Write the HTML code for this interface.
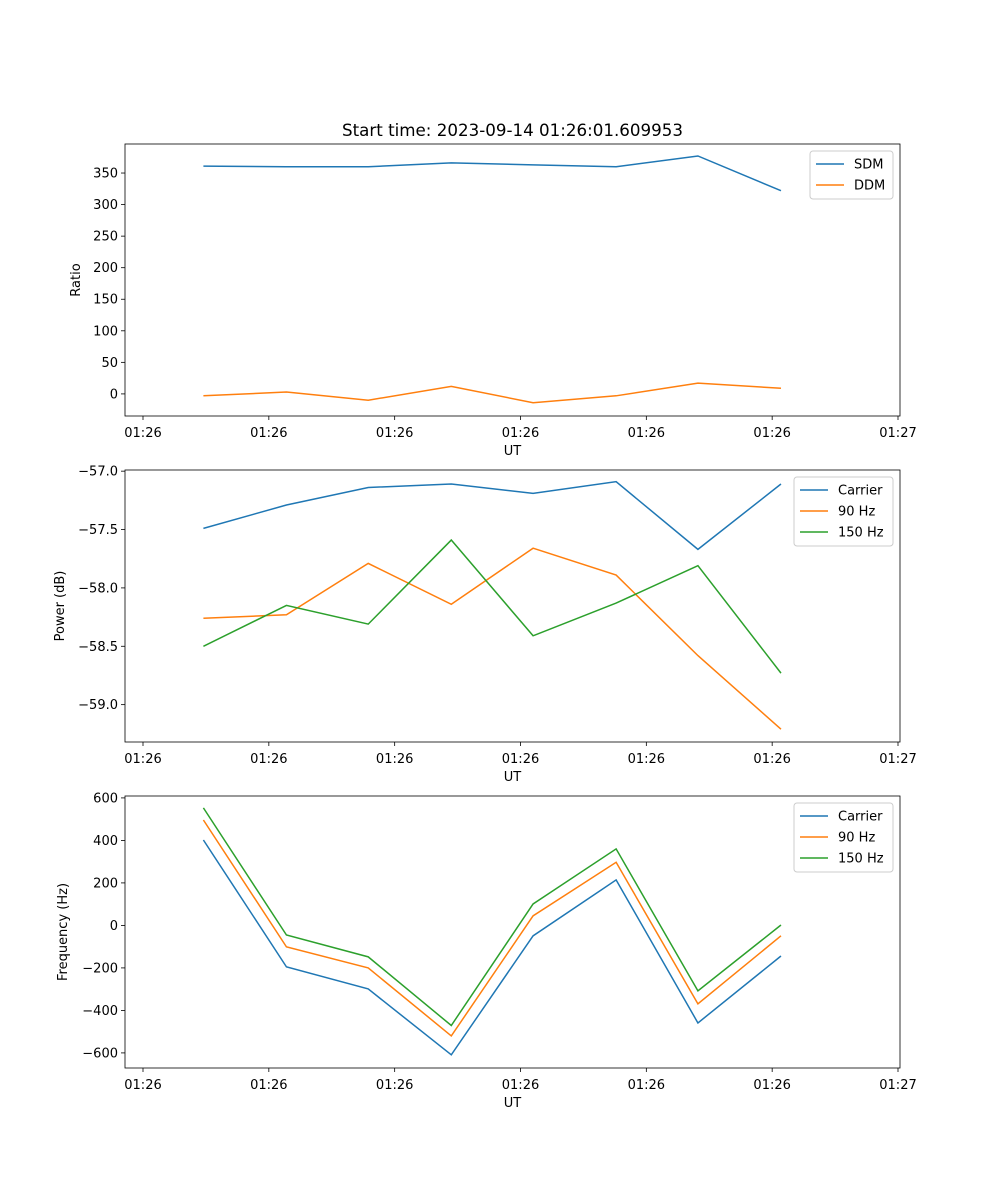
<!DOCTYPE html>
<html><head><meta charset="utf-8"><style>
body{margin:0;background:#fff;}
svg{display:block;font-family:"DejaVu Sans","Liberation Sans",sans-serif;}
</style></head><body>
<svg id="fig" width="1000" height="1200"></svg>
<script>
const xTickVals=[0,10,20,30,40,50,60];
const xTickLabels=["01:26","01:26","01:26","01:26","01:26","01:26","01:27"];
const times=[4.8,11.4,17.9,24.5,31.0,37.6,44.1,50.7];
const sdm=[361,360,360,366,363,360,377,322];
const ddm=[-3,3,-10,12,-14,-3,17,9];
const yTicks1=[0,50,100,150,200,250,300,350];
const pwrCarrier=[-57.49,-57.29,-57.14,-57.11,-57.19,-57.09,-57.67,-57.11];
const pwr90=[-58.26,-58.23,-57.79,-58.14,-57.66,-57.89,-58.58,-59.21];
const pwr150=[-58.50,-58.15,-58.31,-57.59,-58.41,-58.13,-57.81,-58.73];
const yTicks2=[-59.0,-58.5,-58.0,-57.5,-57.0];
const frqCarrier=[402,-195,-299,-609,-49,214,-459,-144];
const frq90=[496,-101,-200,-520,45,297,-369,-49];
const frq150=[553,-45,-148,-471,101,360,-308,2];
const yTicks3=[-600,-400,-200,0,200,400,600];

const NS="http://www.w3.org/2000/svg";
const svg=document.getElementById('fig');
function mk(tag,attrs,parent){const e=document.createElementNS(NS,tag);for(const k in attrs)e.setAttribute(k,attrs[k]);(parent||svg).appendChild(e);return e;}
const L=125,R=900;
const xScale=v=>143+(v-0)*(898-143)/60;
const C={b:"#1f77b4",o:"#ff7f0e",g:"#2ca02c"};
function panel(name,top,bot,ymin,ymax,yt,fmt,ylabel,series,legend,title){
  const g=mk('g',{});
  
  
  const y=v=>bot-(v-ymin)*(bot-top)/(ymax-ymin);
  yt.forEach(v=>{
    mk('line',{x1:L-4,x2:L,y1:y(v),y2:y(v),stroke:'#000','stroke-width':0.8},g);
    const t=mk('text',{x:L-7,y:y(v)+4.5,'text-anchor':'end','font-size':13},g);t.textContent=fmt(v).replace('-','\u2212');
  });
  xTickVals.forEach((v,i)=>{
    mk('line',{x1:xScale(v),x2:xScale(v),y1:bot,y2:bot+4,stroke:'#000','stroke-width':0.8},g);
    const t=mk('text',{x:xScale(v),y:bot+21,'text-anchor':'middle','font-size':13},g);t.textContent=xTickLabels[i];
  });
  series.forEach(s=>{
    const p=mk('polyline',{points:times.map((t,i)=>xScale(t)+','+y(s.d[i])).join(' '),fill:'none',stroke:s.c,'stroke-width':1.5},g);
    
    
  });
  mk('rect',{x:L,y:top,width:R-L,height:bot-top,fill:'none',stroke:'#000','stroke-width':0.8},g);
  let t=mk('text',{x:(L+R)/2,y:bot+39,'text-anchor':'middle','font-size':13},g);t.textContent='UT';
  t=mk('text',{x:0,y:0,'text-anchor':'middle','font-size':13,transform:`translate(${ylabel[1]},${(top+bot)/2}) rotate(-90)`},g);t.textContent=ylabel[0];
  if(title){t=mk('text',{x:(L+R)/2,y:top-8,'text-anchor':'middle','font-size':16.7},g);t.textContent=title;}
  const lg=mk('g',{},g);
  
  
  mk('rect',{x:legend[0],y:top+7,width:R-7-legend[0],height:series.length*21+6,rx:3,fill:'#fff',stroke:'#ccc'},lg);
  series.forEach((s,i)=>{
    const yy=top+7+13+i*21;
    mk('line',{x1:legend[0]+6,x2:legend[0]+34,y1:yy,y2:yy,stroke:s.c,'stroke-width':1.5},lg);
    const tt=mk('text',{x:legend[0]+44,y:yy+4.5,'font-size':13},lg);tt.textContent=s.n;
  });
}
panel('ratio-panel',144,416,-35,396,yTicks1,v=>String(v),['Ratio',80],
  [{n:'SDM',d:sdm,c:C.b},{n:'DDM',d:ddm,c:C.o}],[810],'Start time: 2023-09-14 01:26:01.609953');
panel('power-panel',470,742,-59.32,-56.99,yTicks2,v=>v.toFixed(1),['Power (dB)',64],
  [{n:'Carrier',d:pwrCarrier,c:C.b},{n:'90 Hz',d:pwr90,c:C.o},{n:'150 Hz',d:pwr150,c:C.g}],[794]);
panel('frequency-panel',796,1068,-671,609,yTicks3,v=>String(v),['Frequency (Hz)',67],
  [{n:'Carrier',d:frqCarrier,c:C.b},{n:'90 Hz',d:frq90,c:C.o},{n:'150 Hz',d:frq150,c:C.g}],[794]);
</script>
</body></html>
